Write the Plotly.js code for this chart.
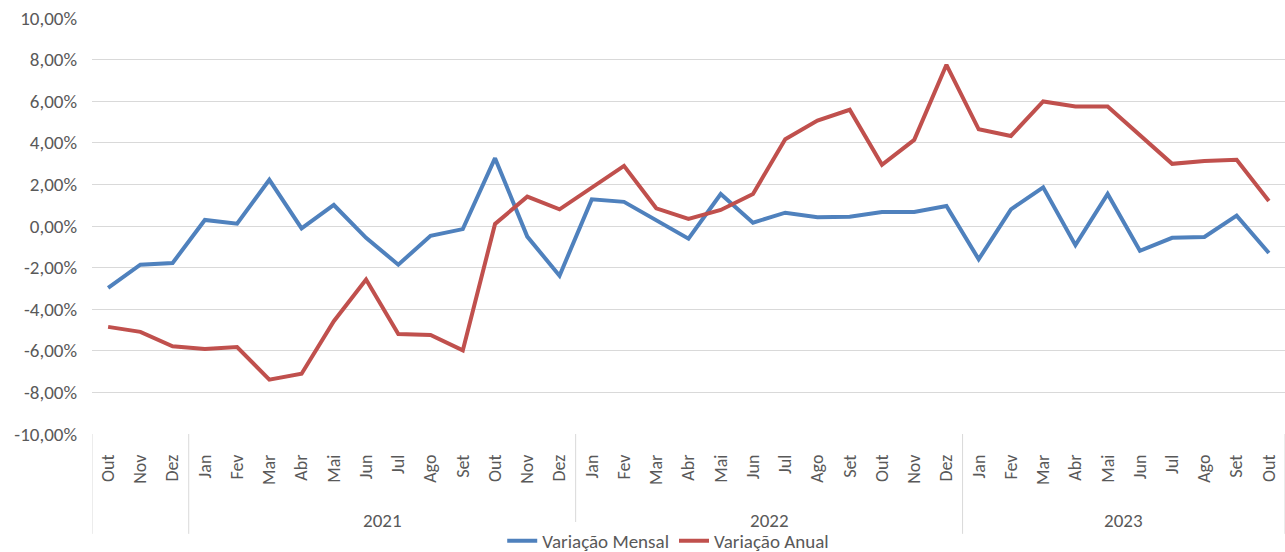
<!DOCTYPE html>
<html>
<head>
<meta charset="utf-8">
<script src="https://cdn.plot.ly/plotly-3.0.1.min.js"></script>
<style>
  html, body { margin: 0; padding: 0; background: #fff; }
  #chart { width: 1285px; height: 552px; }
</style>
</head>
<body>
<div id="chart"></div>
<script>
// months from Out/2020 to Out/2023
var months = ["Out","Nov","Dez",
  "Jan","Fev","Mar","Abr","Mai","Jun","Jul","Ago","Set","Out","Nov","Dez",
  "Jan","Fev","Mar","Abr","Mai","Jun","Jul","Ago","Set","Out","Nov","Dez",
  "Jan","Fev","Mar","Abr","Mai","Jun","Jul","Ago","Set","Out"];
var yearLabels = ["", "2021", "2022", "2023"];
var yearCounts = [3, 12, 12, 10];
var yTicks = [-10, -8, -6, -4, -2, 0, 2, 4, 6, 8, 10];

var mensal = [-2.97, -1.86, -1.78,
  0.29, 0.11, 2.22, -0.11, 1.01, -0.57, -1.86, -0.47, -0.15, 3.26, -0.51, -2.39,
  1.28, 1.16, 0.29, -0.61, 1.54, 0.16, 0.64, 0.42, 0.44, 0.67, 0.67, 0.96,
  -1.60, 0.80, 1.86, -0.92, 1.54, -1.19, -0.57, -0.53, 0.50, -1.30];
var anual = [-4.85, -5.09, -5.78,
  -5.91, -5.82, -7.39, -7.10, -4.58, -2.57, -5.19, -5.24, -5.98, 0.10, 1.41, 0.80,
  1.85, 2.89, 0.85, 0.34, 0.77, 1.54, 4.17, 5.07, 5.59, 2.94, 4.14, 7.75,
  4.65, 4.33, 5.99, 5.75, 5.75, 4.35, 2.99, 3.13, 3.18, 1.20];

var idx = months.map(function(m, i){ return i; });
var fnt = "Carlito, 'Open Sans', sans-serif";
var grey = '#595959';
var gridc = '#d9d9d9';

// excel style labels: plain hyphen, comma decimals
var yText = yTicks.map(function(v){ return v.toFixed(2).replace('.', ',') + '%'; });

var mensalTrace = {
  x: idx, y: mensal, type: 'scatter', mode: 'lines',
  name: 'Variação Mensal',
  line: {color: '#4f81bd', width: 4}
};
var anualTrace = {
  x: idx, y: anual, type: 'scatter', mode: 'lines',
  name: 'Variação Anual',
  line: {color: '#c0504d', width: 4}
};

// year labels + group dividers
var annotations = [];
var shapes = [];
var start = 0;
var divBottom = -0.24;
shapes.push({type:'line', xref:'x', yref:'paper', x0:-0.5, x1:-0.5, y0:0, y1:divBottom,
  line:{color:gridc, width:1}});
for (var g = 0; g < yearLabels.length; g++) {
  var end = start + yearCounts[g];
  annotations.push({
    x: (start + end - 1) / 2, xref: 'x', y: -0.209, yref: 'paper', yanchor: 'middle',
    text: yearLabels[g], showarrow: false,
    font: {family: fnt, size: 19, color: grey}
  });
  shapes.push({type:'line', xref:'x', yref:'paper', x0:end - 0.5, x1:end - 0.5, y0:0, y1:divBottom,
    line:{color:gridc, width:1}});
  start = end;
}

var layout = {
  width: 1285, height: 552,
  margin: {l: 92, r: 0, t: 18, b: 118},
  paper_bgcolor: '#fff', plot_bgcolor: '#fff',
  font: {family: fnt, color: grey, size: 18},
  showlegend: true,
  legend: {
    orientation: 'h', x: 0.483, xanchor: 'center',
    yref: 'container', y: 0.02, yanchor: 'middle',
    itemgap: 22,
    font: {family: fnt, size: 19, color: grey}
  },
  xaxis: {
    range: [-0.5, months.length - 0.5],
    tickmode: 'array', tickvals: idx, ticktext: months,
    tickangle: -90, automargin: false,
    showgrid: false, zeroline: false, showline: false,
    ticks: '', ticklabelstandoff: 16,
    tickfont: {family: fnt, size: 18, color: grey},
    fixedrange: true
  },
  yaxis: {
    range: [-10, 10],
    tickmode: 'array', tickvals: yTicks, ticktext: yText,
    showgrid: true, gridcolor: gridc, gridwidth: 1,
    zeroline: false, showline: false, automargin: false,
    ticks: '', ticklabelstandoff: 14,
    tickfont: {family: fnt, size: 19, color: grey},
    fixedrange: true
  },
  annotations: annotations,
  shapes: shapes
};

Plotly.newPlot('chart', [mensalTrace, anualTrace], layout, {displayModeBar: false, staticPlot: true});
</script>
</body>
</html>
